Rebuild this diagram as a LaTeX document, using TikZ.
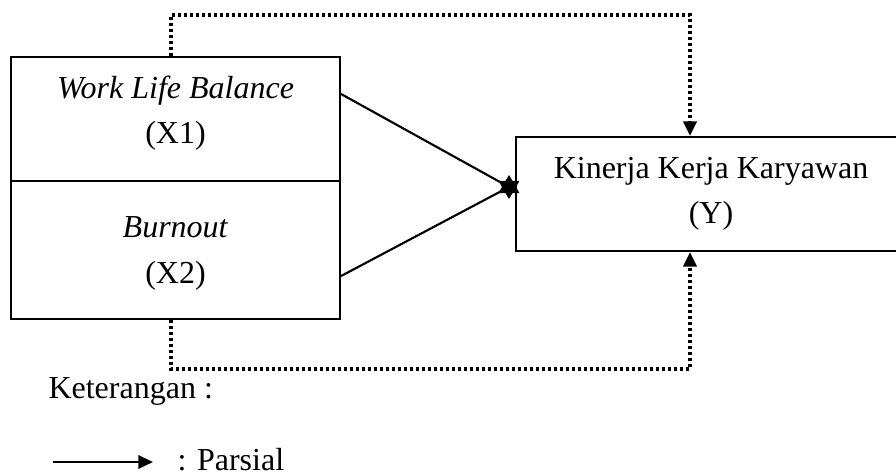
\documentclass[tikz,border=0pt]{standalone}
\usepackage{fontspec}
\setmainfont{Liberation Serif}
\usetikzlibrary{arrows.meta,shapes.geometric}
\tikzset{
  varbox/.style={draw,line width=0.8pt,inner sep=0pt,align=center,
    font=\fontsize{12pt}{17pt}\selectfont},
  simul/.style={line width=1.15pt,dash pattern=on 1.1pt off 1.15pt,
    -{Triangle[width=5pt,length=5.5pt]}},
  parsial/.style={line width=0.8pt},
  tip/.style={-{Triangle[width=5pt,length=5.5pt]}},
  txt/.style={font=\fontsize{12pt}{14pt}\selectfont,inner sep=0pt}
}
\begin{document}
\begin{tikzpicture}[x=0.375pt,y=-0.375pt]
\useasboundingbox (0,0) rectangle (896,475);
% variabel bebas
\node[varbox,minimum width=329*0.375pt,minimum height=124*0.375pt,
  text depth=7pt] (wlb) at (175.5,119) {\textit{Work Life Balance}\\(X1)};
\node[varbox,minimum width=329*0.375pt,minimum height=138*0.375pt,
  text depth=0pt] (burn) at (175.5,250) {\textit{Burnout}\\(X2)};
% variabel terikat
\node[varbox,minimum width=390*0.375pt,minimum height=114*0.375pt,
  text depth=2.5pt] (kin) at (711,194) {Kinerja Kerja Karyawan\\(Y)};
% titik temu
\node[star,star points=6,star point ratio=1.7,fill=black,inner sep=0pt,
  minimum size=9pt] (temu) at (509,187) {};
\draw[parsial] (wlb.east |- 0,94) -- (temu.center);
\draw[parsial] (burn.east |- 0,276) -- (temu.center);
% simultan
\coordinate (atasL) at (171,15);
\coordinate (atasR) at (690,15);
\coordinate (bawahL) at (171,369);
\coordinate (bawahR) at (690,369);
\draw[simul] (wlb.north -| atasL) -- (atasL) -- (atasR) -- (atasR |- kin.north);
\draw[simul] (burn.south -| bawahL) -- (bawahL) -- (bawahR) -- (bawahR |- kin.south);
% keterangan
\node[txt,anchor=west] (ket) at (48,391) {Keterangan :};
\coordinate (legA) at (53,462);
\coordinate (legB) at (153,462);
\draw[parsial,tip] (legA) -- (legB);
\node[txt,anchor=west] (par) at (177,460) {: Parsial};
\end{tikzpicture}
\end{document}
